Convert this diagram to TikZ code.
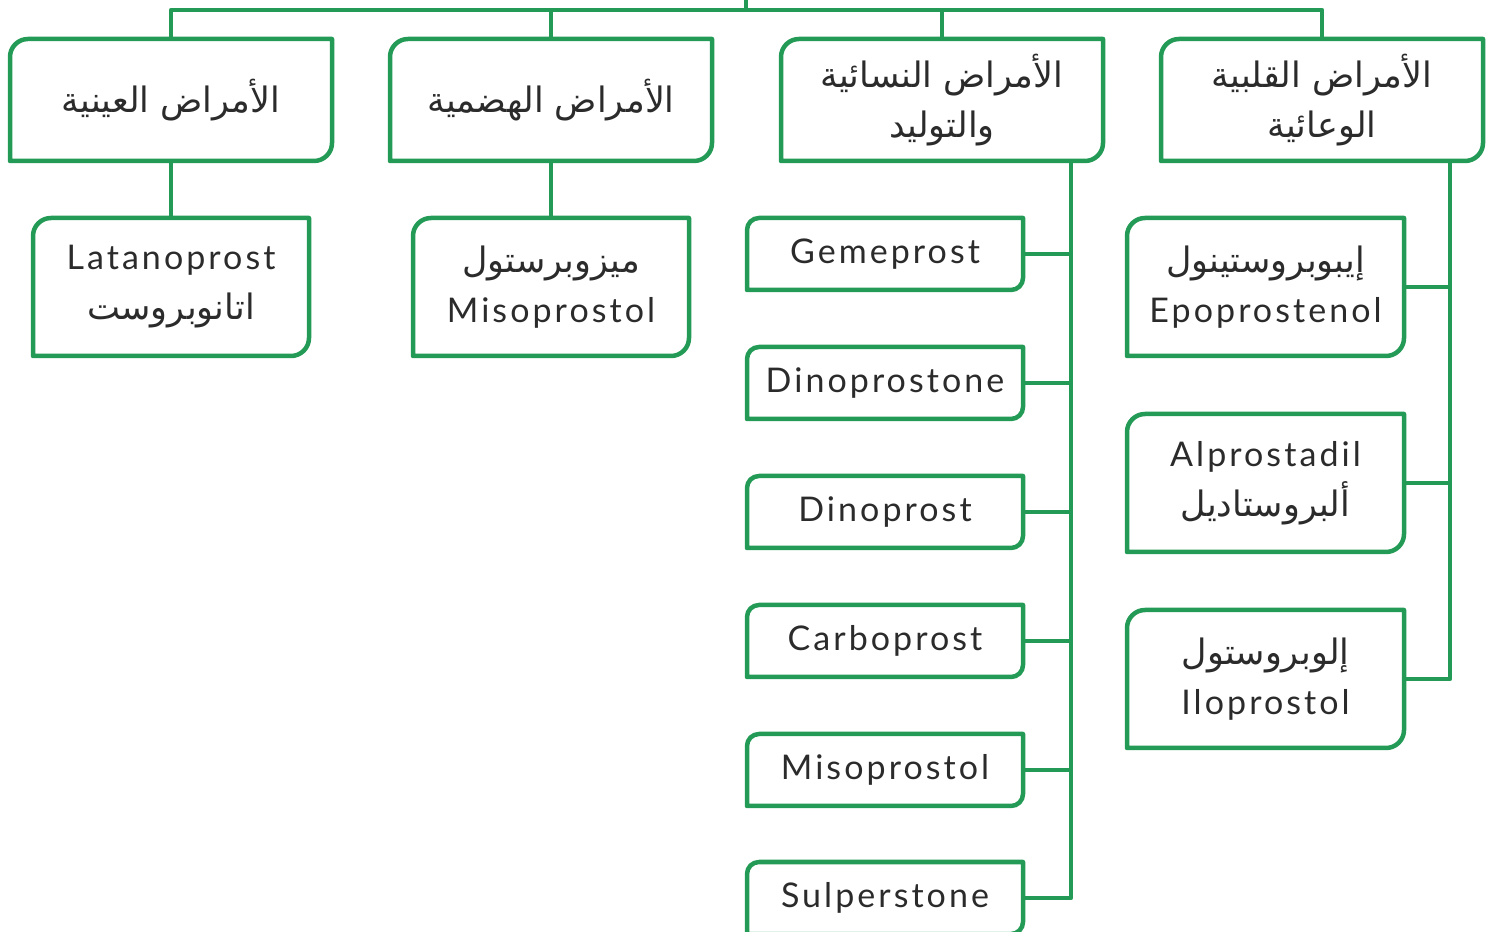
\documentclass[tikz,border=0pt]{standalone}
\usepackage{fontspec}
\setmainfont[LetterSpace=9]{Lato}
\newfontfamily\arabicfont[Script=Arabic]{DejaVu Sans}
\TeXXeTstate=1
\usetikzlibrary{calc}
\definecolor{gr}{HTML}{239A55}
\definecolor{tx}{HTML}{2B2B2B}
\newcommand{\ar}[1]{{\arabicfont\fontsize{35}{50}\selectfont\beginR #1\endR}}
\newcommand{\gframe}[2]{\draw[gline] (#1.south west) -- ([yshift=-#2]#1.north west) arc[start angle=180,end angle=90,radius=#2] -- (#1.north east) -- ([yshift=#2]#1.south east) arc[start angle=0,end angle=-90,radius=#2] -- cycle;}
\tikzset{
  gline/.style={draw=gr,line width=4.5pt,line join=round},
  boxn/.style={inner sep=0pt,outer sep=0pt,align=center,text=tx,font=\fontsize{34}{50}\selectfont},
  big/.style={boxn,minimum width=322pt,minimum height=122pt},
  mid/.style={boxn,minimum width=276pt,minimum height=138pt},
  small/.style={boxn,minimum width=276pt,minimum height=72pt},
}
\begin{document}
\begin{tikzpicture}[x=1pt,y=1pt]
\useasboundingbox (0,0) rectangle (1495,931);
% top level
\node[big] (eye) at (171,831) {\ar{الأمراض العينية}};
\node[big] (dig) at (551,831) {\ar{الأمراض الهضمية}};
\node[big] (gyn) at (942,831) {\ar{الأمراض النسائية}\\\ar{والتوليد}};
\node[big] (car) at (1322,831) {\ar{الأمراض القلبية}\\\ar{الوعائية}};
% children
\node[mid] (lat) at (171,644) {Latanoprost\\\ar{اتانوبروست}};
\node[mid] (mis) at (551,644) {\ar{ميزوبرستول}\\Misoprostol};
\node[small] (gem) at (885,677) {Gemeprost};
\node[small] (dpe) at (885,548) {Dinoprostone};
\node[small] (dpr) at (885,419) {Dinoprost};
\node[small] (cbp) at (885,290) {Carboprost};
\node[small] (msp) at (885,161) {Misoprostol};
\node[small] (sul) at (885,33) {Sulperstone};
\node[mid,minimum width=277pt] (epo) at (1265.5,644) {\ar{إيبوبروستينول}\\Epoprostenol};
\node[mid,minimum width=277pt] (alp) at (1265.5,448) {Alprostadil\\\ar{ألبروستاديل}};
\node[mid,minimum width=277pt] (ilo) at (1265.5,252) {\ar{إلوبروستول}\\Iloprostol};
% frames
\gframe{eye}{18pt}\gframe{dig}{18pt}\gframe{gyn}{18pt}\gframe{car}{18pt}
\gframe{lat}{18pt}\gframe{mis}{18pt}
\gframe{epo}{18pt}\gframe{alp}{18pt}\gframe{ilo}{18pt}
\gframe{gem}{12pt}\gframe{dpe}{12pt}\gframe{dpr}{12pt}\gframe{cbp}{12pt}\gframe{msp}{12pt}\gframe{sul}{12pt}
% connectors
\coordinate (root) at (746,935);
\coordinate (bus) at (746,921);
\coordinate (gt) at (1071,770);
\coordinate (ct) at (1450,770);
\draw[gline] (root) -- (bus);
\draw[gline] (eye.north) |- (bus) -| (car.north);
\draw[gline] (dig.north) -- (dig.north |- bus);
\draw[gline] (gyn.north) -- (gyn.north |- bus);
\draw[gline] (eye.south) -- (lat.north);
\draw[gline] (dig.south) -- (mis.north);
\draw[gline] (gt) |- (sul.east);
\foreach \n in {gem,dpe,dpr,cbp,msp} \draw[gline] (\n.east) -- (\n.east -| gt);
\draw[gline] (ct) |- (ilo.east);
\foreach \n in {epo,alp} \draw[gline] (\n.east) -- (\n.east -| ct);
\end{tikzpicture}
\end{document}
